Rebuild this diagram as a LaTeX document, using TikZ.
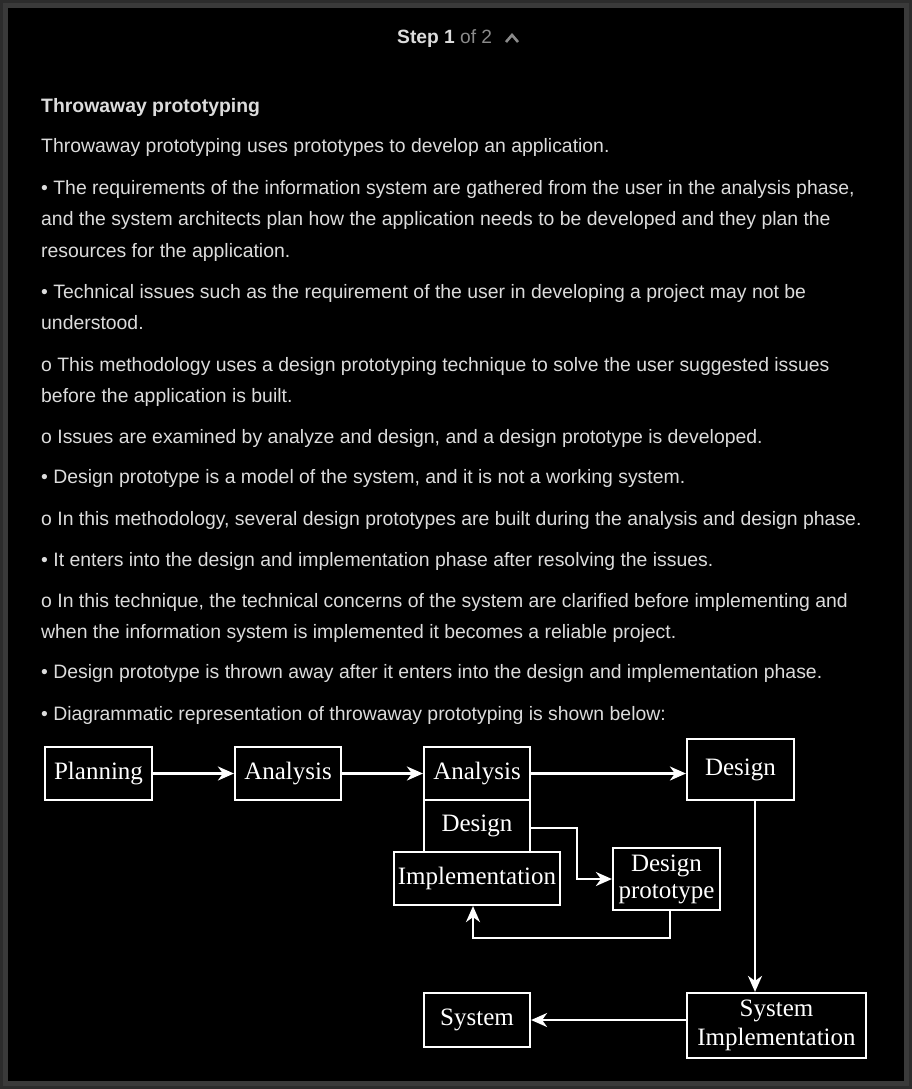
\documentclass[tikz,border=0pt]{standalone}
\usepackage{fontspec}
\setmainfont{Liberation Serif}
\newfontfamily\arialf{Liberation Sans}
\usetikzlibrary{arrows.meta,calc}
\definecolor{bodytxt}{HTML}{DCDCDC}
\definecolor{dimtxt}{HTML}{8A8A8A}
\definecolor{rimgray}{HTML}{2C2C2C}
\definecolor{rimlight}{HTML}{3A3A3A}
\tikzset{
  body/.style={anchor=base west, inner sep=0pt, text=bodytxt, font=\arialf\fontsize{19.4}{22}\selectfont},
  flowbox/.style={draw=white, line width=2.2pt, text=white, inner sep=0pt, align=center,
    font=\fontsize{25}{27}\selectfont},
  arr/.style={draw=white, line width=2.2pt, -{Stealth[length=16pt,width=14pt,inset=5pt]}},
  plain/.style={draw=white, line width=2.2pt}
}
\begin{document}
\begin{tikzpicture}[x=1pt,y=-1pt]
\useasboundingbox (0,0) rectangle (912,1089);
% frame
\fill[rimgray] (0,0) rectangle (912,1089);
\fill[rimlight] (3,3) rectangle (909,1086);
\fill[black] (8,8) rectangle (904,1081);
% header
\node[body, font=\arialf\bfseries\fontsize{19.2}{22}\selectfont] (step) at (397,44) {Step 1 \textcolor{dimtxt}{\mdseries of 2}};
\draw[dimtxt, line width=2.6pt] (506,42) -- (512,35) -- (518,42);
\node[body, font=\arialf\bfseries\fontsize{19.4}{22}\selectfont] (title) at (41,113) {Throwaway prototyping};
% body text
\node[body] (l1) at (41,153) {Throwaway prototyping uses prototypes to develop an application.};
\node[body] (l2) at (41,194) {• The requirements of the information system are gathered from the user in the analysis phase,};
\node[body] (l3) at (41,225) {and the system architects plan how the application needs to be developed and they plan the};
\node[body] (l4) at (41,257) {resources for the application.};
\node[body] (l5) at (41,298) {• Technical issues such as the requirement of the user in developing a project may not be};
\node[body] (l6) at (41,329) {understood.};
\node[body] (l7) at (41,371) {o This methodology uses a design prototyping technique to solve the user suggested issues};
\node[body] (l8) at (41,402) {before the application is built.};
\node[body] (l9) at (41,443) {o Issues are examined by analyze and design, and a design prototype is developed.};
\node[body] (l10) at (41,483) {• Design prototype is a model of the system, and it is not a working system.};
\node[body] (l11) at (41,525) {o In this methodology, several design prototypes are built during the analysis and design phase.};
\node[body] (l12) at (41,566) {• It enters into the design and implementation phase after resolving the issues.};
\node[body] (l13) at (41,607) {o In this technique, the technical concerns of the system are clarified before implementing and};
\node[body] (l14) at (41,638) {when the information system is implemented it becomes a reliable project.};
\node[body] (l15) at (41,678) {• Design prototype is thrown away after it enters into the design and implementation phase.};
\node[body] (l16) at (41,720) {• Diagrammatic representation of throwaway prototyping is shown below:};
% diagram
\node[flowbox, minimum width=107pt, minimum height=53pt] (plan) at (98.5,773.5) {Planning};
\node[flowbox, minimum width=106pt, minimum height=53pt] (an1) at (288,773.5) {Analysis};
\node[flowbox, minimum width=106pt, minimum height=53pt] (an2) at (477,773.5) {Analysis};
\node[flowbox, minimum width=106pt, minimum height=52pt] (des) at (477,826) {Design};
\node[flowbox, minimum width=166pt, minimum height=53pt] (impl) at (477,878.5) {Implementation};
\node[flowbox, minimum width=107pt, minimum height=62pt, font=\fontsize{25}{27}\selectfont] (proto) at (666.5,879) {Design\\prototype};
\node[flowbox, minimum width=107pt, minimum height=61pt] (desR) at (740.5,769.5) {Design};
\node[flowbox, minimum width=179pt, minimum height=65pt, font=\fontsize{25}{29}\selectfont] (sysimpl) at (776.5,1025.5) {System\\Implementation};
\node[flowbox, minimum width=106pt, minimum height=54pt] (sys) at (477,1020) {System};
% connectors
\draw[arr] (plan.east) -- (an1.west);
\draw[arr] (an1.east) -- (an2.west);
\draw[arr] (an2.east) -- (an2.east -| desR.west);
\draw[arr] ([yshift=-2pt]des.east) -- ++(46,0) |- (proto.west);
\coordinate (loopc) at (473,938);
\draw[arr] ([xshift=3.5pt]proto.south) |- (loopc) -- (loopc |- impl.south);
\draw[arr] ([xshift=14.5pt]desR.south) -- ([xshift=14.5pt]desR.south |- sysimpl.north);
\draw[arr] (sysimpl.west |- sys.east) -- (sys.east);
\end{tikzpicture}
\end{document}
